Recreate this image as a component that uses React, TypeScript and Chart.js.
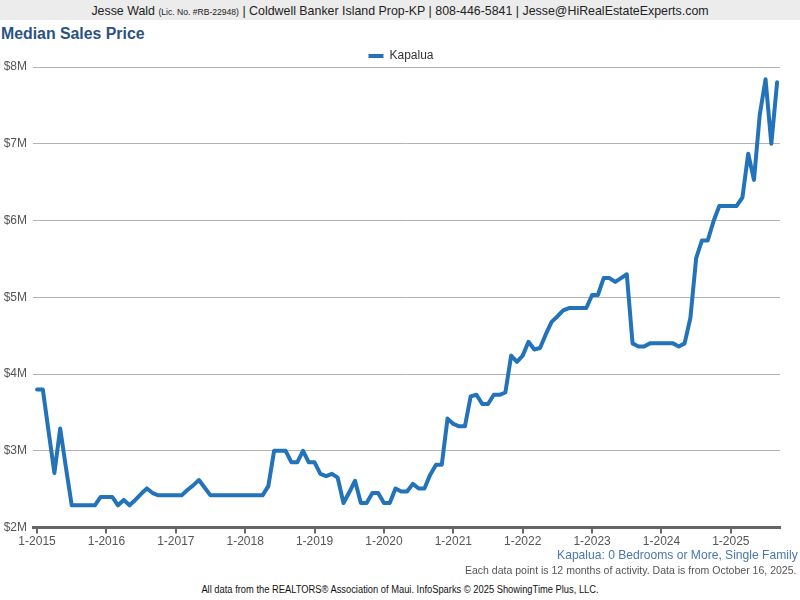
import React, { useEffect, useRef } from "react";
import { Chart, registerables } from "chart.js";

Chart.register(...registerables);

// Median sales price, $M, one value per month (Jan 2015 .. Sep 2025)
const prices2015 = [3.8, 3.8, 3.25, 2.71, 3.29, 2.78, 2.29, 2.29, 2.29, 2.29, 2.29, 2.4];
const prices2016 = [2.4, 2.4, 2.29, 2.36, 2.29, 2.36, 2.44, 2.51, 2.45, 2.42, 2.42, 2.42];
const prices2017 = [2.42, 2.42, 2.49, 2.55, 2.62, 2.52, 2.42, 2.42, 2.42, 2.42, 2.42, 2.42];
const prices2018 = [2.42, 2.42, 2.42, 2.42, 2.54, 3.0, 3.0, 3.0, 2.85, 2.85, 3.0, 2.85];
const prices2019 = [2.85, 2.7, 2.67, 2.7, 2.65, 2.32, 2.46, 2.61, 2.32, 2.32, 2.45, 2.45];
const prices2020 = [2.32, 2.32, 2.51, 2.47, 2.47, 2.57, 2.51, 2.51, 2.69, 2.82, 2.82, 3.42];
const prices2021 = [3.35, 3.32, 3.32, 3.71, 3.73, 3.61, 3.61, 3.73, 3.73, 3.76, 4.24, 4.16];
const prices2022 = [4.24, 4.42, 4.32, 4.34, 4.52, 4.68, 4.75, 4.83, 4.86, 4.86, 4.86, 4.86];
const prices2023 = [5.03, 5.03, 5.25, 5.25, 5.2, 5.25, 5.3, 4.4, 4.36, 4.36, 4.4, 4.4];
const prices2024 = [4.4, 4.4, 4.4, 4.36, 4.4, 4.73, 5.51, 5.74, 5.74, 5.99, 6.19, 6.19];
const prices2025 = [6.19, 6.19, 6.3, 6.87, 6.53, 7.38, 7.84, 7.0, 7.8];

const seriesName = "Kapalua";
const xTickLabels = ["1-2015", "1-2016", "1-2017", "1-2018", "1-2019", "1-2020", "1-2021", "1-2022", "1-2023", "1-2024", "1-2025"];
const yTickValues = [2, 3, 4, 5, 6, 7, 8];

const BLUE = "#2273b9";
const SANS = "Arial, 'Liberation Sans', Helvetica, sans-serif";

const legendShift = {
  id: "legendShift",
  afterLayout(chart: any) {
    const lg = chart.legend;
    if (lg) {
      lg.left += 11;
      lg.right += 11;
    }
  },
};

export default function App() {
  const canvasRef = useRef<HTMLCanvasElement | null>(null);

  useEffect(() => {
    const prices = [
      ...prices2015, ...prices2016, ...prices2017, ...prices2018, ...prices2019,
      ...prices2020, ...prices2021, ...prices2022, ...prices2023, ...prices2024, ...prices2025,
    ];
    const points = prices.map((v, i) => ({ x: i, y: v }));
    const defaultLabels = (Chart.defaults as any).plugins.legend.labels.generateLabels;
    const chart = new Chart(canvasRef.current as HTMLCanvasElement, {
      type: "line",
      data: {
        datasets: [
          {
            label: seriesName,
            data: points,
            borderColor: BLUE,
            backgroundColor: BLUE,
            borderWidth: 4,
            pointRadius: 0,
            tension: 0,
            borderJoinStyle: "round",
            borderCapStyle: "round",
          },
        ],
      },
      plugins: [legendShift],
      options: {
        animation: false,
        responsive: true,
        maintainAspectRatio: false,
        layout: { padding: { left: 0, right: 20, top: 0, bottom: 0 } },
        plugins: {
          legend: {
            display: true,
            position: "top",
            maxHeight: 21,
            labels: {
              boxWidth: 15,
              boxHeight: 4,
              color: "#333",
              font: { family: SANS, size: 12 },
              padding: 4,
              generateLabels: (c: any) =>
                defaultLabels(c).map((l: any) => ({ ...l, lineWidth: 0, fillStyle: BLUE })),
            },
          },
          tooltip: { enabled: false },
        },
        scales: {
          x: {
            type: "linear",
            min: -0.7,
            max: 128.5,
            afterBuildTicks: (scale: any) => {
              scale.ticks = xTickLabels.map((_, i) => ({ value: i * 12 }));
            },
            ticks: {
              callback: (v: any) => xTickLabels[Math.round(Number(v) / 12)],
              color: "#555",
              font: { family: SANS, size: 12 },
              padding: 1,
              maxRotation: 0,
              autoSkip: false,
            },
            grid: {
              drawOnChartArea: false,
              drawTicks: true,
              tickLength: 6,
              color: "#666",
              lineWidth: 2,
            },
            border: { display: true, color: "#666", width: 3 },
          },
          y: {
            min: 2,
            max: 8,
            afterBuildTicks: (scale: any) => {
              scale.ticks = yTickValues.map((v) => ({ value: v }));
            },
            afterFit: (scale: any) => {
              scale.width = 33;
            },
            ticks: {
              callback: (v: any) => `$${v}M`,
              color: "#555",
              font: { family: SANS, size: 12 },
              padding: 6,
            },
            grid: { color: "#b3b3b3", lineWidth: 1, drawTicks: false },
            border: { display: false },
          },
        },
      },
    });
    return () => chart.destroy();
  }, []);

  return (
    <div
      style={{
        position: "fixed",
        left: 0,
        top: 0,
        width: 800,
        height: 600,
        background: "#fff",
        fontFamily: SANS,
        overflow: "hidden",
      }}
    >
      <div
        style={{
          position: "absolute",
          left: 0,
          top: 0,
          width: 800,
          height: 20,
          background: "#ececec",
        }}
      />
      <div
        style={{
          position: "absolute",
          left: 0,
          top: 0,
          width: 800,
          textAlign: "center",
          lineHeight: "21px",
          fontSize: 13,
          color: "#222",
          whiteSpace: "nowrap",
          transform: "scaleX(0.953)",
          transformOrigin: "center center",
        }}
      >
        Jesse Wald <span style={{ fontSize: 9 }}>(Lic. No. #RB-22948)</span> | Coldwell Banker Island Prop-KP | 808-446-5841 | Jesse@HiRealEstateExperts.com
      </div>
      <div
        style={{
          position: "absolute",
          left: 1,
          top: 25,
          fontSize: 16,
          fontWeight: "bold",
          color: "#2b5283",
          whiteSpace: "nowrap",
          transform: "scaleX(0.99)",
          transformOrigin: "left center",
        }}
      >
        Median Sales Price
      </div>
      <div style={{ position: "absolute", left: 0, top: 46, width: 800, height: 504 }}>
        <canvas ref={canvasRef} />
      </div>
      <div
        style={{
          position: "absolute",
          right: 2,
          top: 547,
          fontSize: 13,
          color: "#4a77ad",
          whiteSpace: "nowrap",
          transform: "scaleX(0.93)",
          transformOrigin: "right center",
        }}
      >
        Kapalua: 0 Bedrooms or More, Single Family
      </div>
      <div
        style={{
          position: "absolute",
          right: 4,
          top: 564,
          fontSize: 11,
          color: "#555",
          whiteSpace: "nowrap",
          transform: "scaleX(0.957)",
          transformOrigin: "right center",
        }}
      >
        Each data point is 12 months of activity. Data is from October 16, 2025.
      </div>
      <div
        style={{
          position: "absolute",
          left: 0,
          width: 800,
          top: 584,
          textAlign: "center",
          fontSize: 10,
          color: "#111",
          whiteSpace: "nowrap",
          transform: "scaleX(0.934)",
          transformOrigin: "center center",
        }}
      >
        All data from the REALTORS® Association of Maui. InfoSparks © 2025 ShowingTime Plus, LLC.
      </div>
    </div>
  );
}
